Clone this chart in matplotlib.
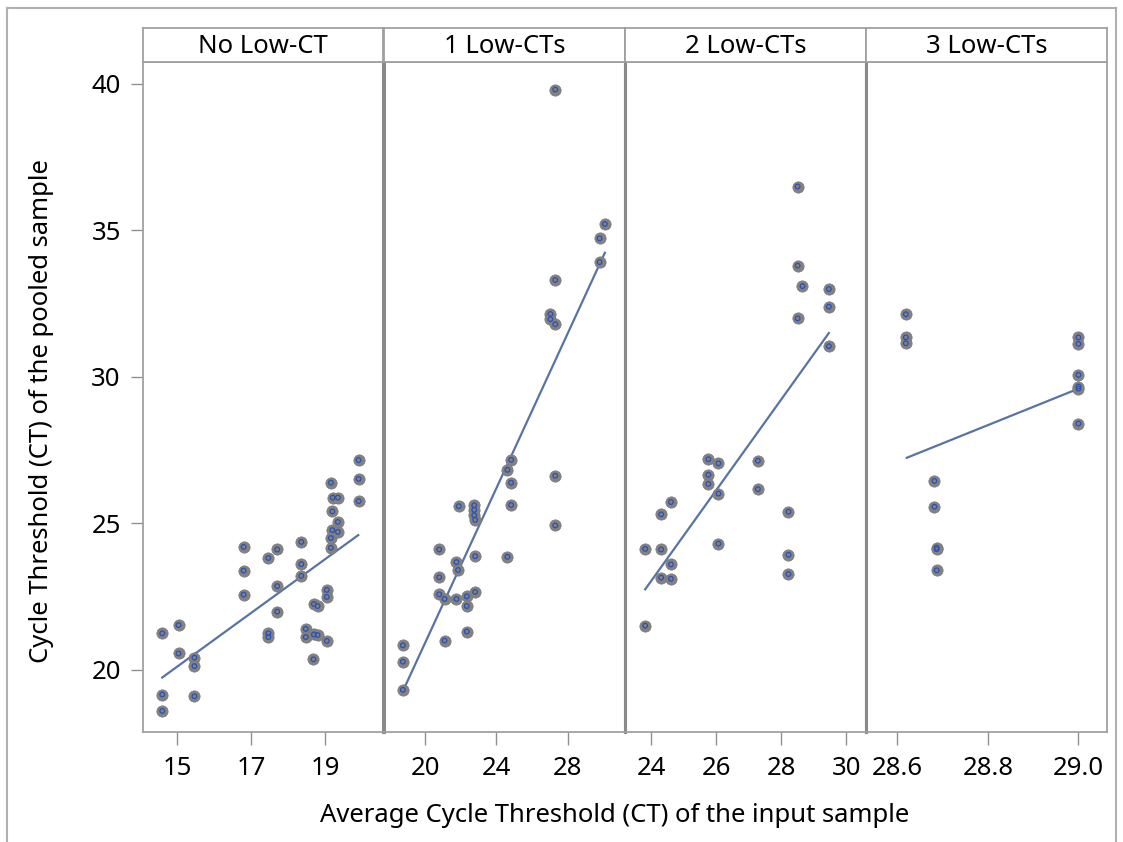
import matplotlib
matplotlib.use("Agg")
import matplotlib.pyplot as plt
from matplotlib.lines import Line2D

plt.rcParams['font.family'] = ['Noto Sans', 'DejaVu Sans']

# ---------------- data ----------------
panel_titles = ["No Low-CT", "1 Low-CTs", "2 Low-CTs", "3 Low-CTs"]

p1_x = [14.59, 14.59, 14.59, 15.03, 15.03, 15.46, 15.46, 15.46, 16.79, 16.79, 16.79,
        17.46, 17.46, 17.46, 17.70, 17.70, 17.70, 18.35, 18.35, 18.35, 18.47, 18.47,
        18.69, 18.79, 18.69, 18.79, 18.68, 19.04, 19.04, 19.04, 19.15, 19.15, 19.15,
        19.20, 19.34, 19.19, 19.34, 19.19, 19.34, 19.90, 19.90, 19.90]
p1_y = [21.25, 19.16, 18.60, 21.53, 20.56, 20.42, 20.13, 19.10, 24.20, 23.39, 22.57,
        23.82, 21.25, 21.12, 24.11, 22.86, 21.99, 24.37, 23.61, 23.21, 21.40, 21.12,
        22.25, 22.18, 21.21, 21.19, 20.36, 22.73, 22.49, 20.99, 26.39, 24.50, 24.17,
        25.88, 25.88, 25.41, 25.05, 24.77, 24.71, 27.16, 26.52, 25.76]

p2_x = [18.75, 18.75, 18.75, 20.79, 20.79, 20.79, 21.09, 21.09, 21.76, 21.85, 21.76,
        21.89, 22.34, 22.34, 22.34, 22.76, 22.76, 22.76, 22.81, 22.81, 22.81, 24.62,
        24.62, 24.83, 24.83, 24.83, 27.31, 27.31, 27.04, 27.04, 27.31, 27.31, 27.31,
        29.80, 29.80, 30.10]
p2_y = [20.84, 20.28, 19.32, 24.11, 23.16, 22.58, 22.42, 21.00, 23.68, 23.41, 22.42,
        25.59, 22.51, 22.18, 21.31, 25.62, 25.46, 25.28, 25.12, 23.88, 22.66, 26.83,
        23.86, 27.17, 26.39, 25.63, 26.63, 24.93, 32.15, 31.97, 31.80, 33.31, 39.81,
        33.92, 34.73, 35.22]

p3_x = [23.82, 23.82, 24.31, 24.31, 24.31, 24.61, 24.61, 24.61, 25.76, 25.76, 25.76,
        26.07, 26.07, 26.07, 27.28, 27.28, 28.22, 28.22, 28.22, 28.50, 28.50, 28.65,
        28.50, 29.46, 29.46, 29.46]
p3_y = [24.13, 21.51, 25.31, 24.11, 23.15, 25.73, 23.60, 23.11, 27.19, 26.66, 26.35,
        27.05, 26.02, 24.31, 27.14, 26.17, 25.40, 23.93, 23.27, 36.50, 33.80, 33.10,
        32.00, 33.00, 32.40, 31.05]

p4_x = [28.619, 28.619, 28.619, 28.682, 28.682, 28.687, 28.687, 28.687,
        29.0, 29.0, 29.0, 29.0, 29.0, 29.0]
p4_y = [32.14, 31.35, 31.15, 26.45, 25.57, 24.17, 24.12, 23.40,
        31.35, 31.13, 30.07, 29.67, 29.60, 28.41]

# fitted line end points
fit_x = [[14.59, 19.89], [18.83, 30.10], [23.82, 29.46], [28.621, 29.0]]
fit_y = [[19.74, 24.60], [19.38, 34.24], [22.75, 31.50], [27.24, 29.60]]

x_ticks = [[15, 17, 19], [20, 24, 28], [24, 26, 28, 30], [28.6, 28.8, 29.0]]
x_tick_labels = [["15", "17", "19"], ["20", "24", "28"], ["24", "26", "28", "30"],
                 ["28.6", "28.8", "29.0"]]
x_limits = [(14.07, 20.56), (17.69, 31.23), (23.20, 30.60), (28.531, 29.063)]
y_ticks = [20, 25, 30, 35, 40]
y_limits = (17.88, 40.75)

xs = [p1_x, p2_x, p3_x, p4_x]
ys = [p1_y, p2_y, p3_y, p4_y]

# ---------------- figure ----------------
W, H = 1123, 842
fig = plt.figure(figsize=(W / 100, H / 100), dpi=100)


def rect(x0, y0, x1, y1):
    return [x0 / W, 1 - y1 / H, (x1 - x0) / W, (y1 - y0) / H]


panel_px = [(143, 383), (384, 625), (625, 866), (866, 1107)]
frame_col = '#a0a0a0'
sep_col = '#8a8a8a'
line_col = '#5874a4'
FS = 18.5

for i, (x0, x1) in enumerate(panel_px):
    ax = fig.add_axes(rect(x0, 62, x1, 732))
    ax.scatter(xs[i], ys[i], s=66, color='#828282', edgecolors='#7a7a7a',
               linewidths=0.5, zorder=3)
    ax.scatter(xs[i], ys[i], s=11, facecolors='none', edgecolors='#2a50b8',
               linewidths=0.9, zorder=4)
    ax.plot(fit_x[i], fit_y[i], color=line_col, lw=1.6, zorder=2)
    ax.set_xlim(*x_limits[i])
    ax.set_ylim(*y_limits)
    ax.set_xticks(x_ticks[i])
    ax.set_xticklabels(x_tick_labels[i])
    ax.tick_params(axis='x', length=9, width=1, color='#909090', labelsize=FS,
                   pad=8)
    if i == 0:
        ax.set_yticks(y_ticks)
        ax.set_yticklabels([str(t) for t in y_ticks])
        ax.tick_params(axis='y', length=9, width=1, color='#909090',
                       labelsize=FS, pad=7)
    else:
        ax.set_yticks([])
    for name, sp in ax.spines.items():
        sp.set_color(frame_col)
        sp.set_linewidth(1.3)
    if i > 0:
        ax.spines['left'].set_color(sep_col)
        ax.spines['left'].set_linewidth(2.2)
    if i < 3:
        ax.spines['right'].set_color(sep_col)
        ax.spines['right'].set_linewidth(2.2)

    hax = fig.add_axes(rect(x0, 28, x1, 62))
    hax.set_xticks([])
    hax.set_yticks([])
    for sp in hax.spines.values():
        sp.set_color(frame_col)
        sp.set_linewidth(1.3)
    hax.text(0.5, 0.47, panel_titles[i], ha='center', va='center', fontsize=FS,
             transform=hax.transAxes)

fig.text(42 / W, 1 - 411 / H, "Cycle Threshold (CT) of the pooled sample",
         rotation=90, ha='center', va='center', fontsize=FS)
fig.text(615 / W, 1 - 815 / H, "Average Cycle Threshold (CT) of the input sample",
         ha='center', va='center', fontsize=FS)

# outer frame
for (xa, ya, xb, yb) in [(7, 8, 1116, 8), (7, 8, 7, 842), (1116, 8, 1116, 842)]:
    fig.add_artist(Line2D([xa / W, xb / W], [1 - ya / H, 1 - yb / H],
                          transform=fig.transFigure, color='#b0b0b0', lw=1.5))

fig.savefig("out.png", dpi=100)
